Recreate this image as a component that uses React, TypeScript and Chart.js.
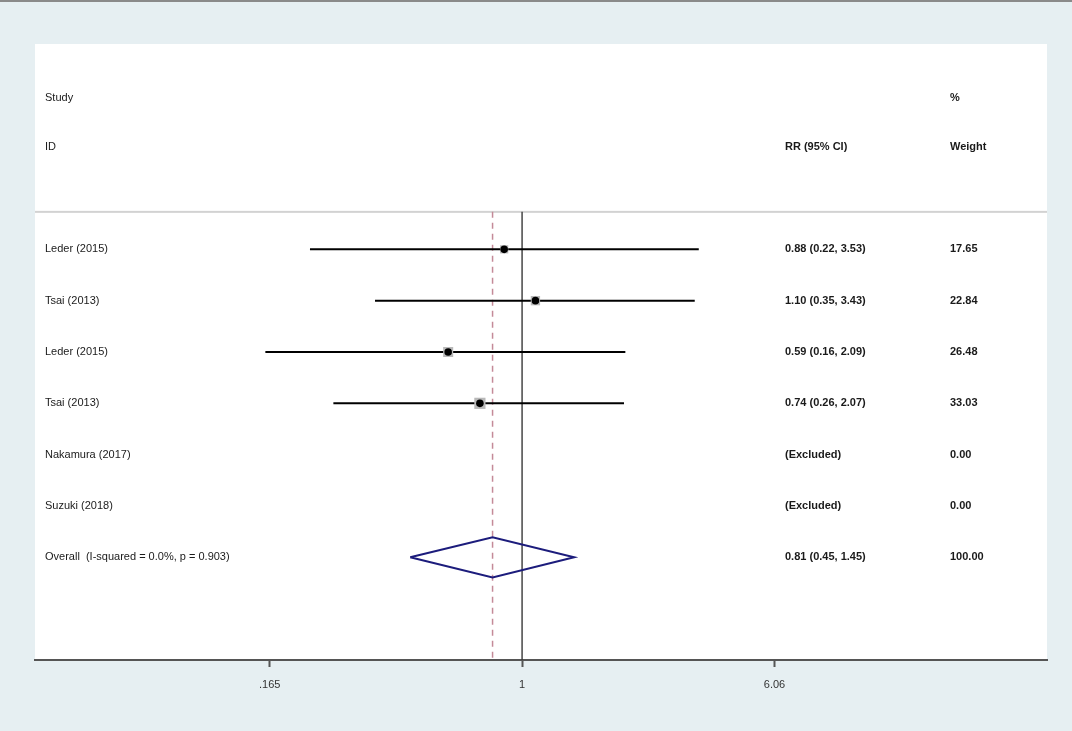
import React, { useEffect, useRef } from "react";
import { Chart, registerables } from "chart.js";

Chart.register(...registerables);

const STUDIES = ["Leder (2015)", "Tsai (2013)", "Leder (2015)", "Tsai (2013)", "Nakamura (2017)", "Suzuki (2018)"];
const RR = [0.88, 1.1, 0.59, 0.74, null, null];
const LO = [0.22, 0.35, 0.16, 0.26, null, null];
const HI = [3.53, 3.43, 2.09, 2.07, null, null];
const WEIGHTS = [17.65, 22.84, 26.48, 33.03, 0.0, 0.0];

const OVERALL_LABEL = "Overall  (I-squared = 0.0%, p = 0.903)";
const OVERALL_RR = 0.81;
const OVERALL_LO = 0.45;
const OVERALL_HI = 1.45;
const OVERALL_WEIGHT = 100.0;

const X_TICKS = [0.165, 1, 6.06];
const X_TICK_LABELS = [".165", "1", "6.06"];

const X_MIN = 0.0309;
const X_MAX = 42.4;
const Y_MIN = -4;
const Y_MAX = 8;
const HEADER_ROW_1 = -2.94;
const HEADER_ROW_2 = -1.99;
const SEPARATOR_Y = -0.73;
const OVERALL_ROW = STUDIES.length;

const FONT = "Arial, 'Liberation Sans', Helvetica, sans-serif";
const OUTER_BG = "#e6eff2";

const fmt = (v: number) => v.toFixed(2);

export default function App() {
  const ref = useRef<HTMLCanvasElement | null>(null);

  useEffect(() => {
    if (!ref.current) return;

    const rows = STUDIES.map((_, i) => i);
    const ciDatasets = rows
      .filter((i) => RR[i] != null)
      .map((i) => ({
        type: "line" as const,
        data: [
          { x: LO[i] as number, y: i },
          { x: HI[i] as number, y: i },
        ],
        borderColor: "#000000",
        borderWidth: 2,
        pointRadius: 0,
        showLine: true,
        order: 3,
      }));

    const boxData = rows.filter((i) => RR[i] != null).map((i) => ({ x: RR[i] as number, y: i }));
    const boxRadii = rows.filter((i) => RR[i] != null).map((i) => 1.38 * Math.sqrt(WEIGHTS[i]));

    const diamondH = 0.39;

    const chart = new Chart(ref.current, {
      type: "scatter",
      data: {
        datasets: [
          {
            type: "line",
            data: [
              { x: 1, y: SEPARATOR_Y },
              { x: 1, y: Y_MAX },
            ],
            borderColor: "#3a3a3a",
            borderWidth: 1.4,
            pointRadius: 0,
            showLine: true,
            order: 5,
          },
          {
            type: "line",
            data: [
              { x: OVERALL_RR, y: SEPARATOR_Y },
              { x: OVERALL_RR, y: Y_MAX },
            ],
            borderColor: "#c48a98",
            borderWidth: 1.5,
            borderDash: [6, 5],
            pointRadius: 0,
            showLine: true,
            order: 5,
          },
          ...ciDatasets,
          {
            type: "scatter",
            data: boxData,
            pointStyle: "rect",
            pointRadius: boxRadii,
            backgroundColor: "#b9b9b9",
            borderWidth: 0,
            order: 2,
          },
          {
            type: "scatter",
            data: boxData,
            pointStyle: "circle",
            pointRadius: 3.8,
            backgroundColor: "#000000",
            borderWidth: 0,
            order: 1,
          },
          {
            type: "line",
            data: [
              { x: OVERALL_LO, y: OVERALL_ROW },
              { x: OVERALL_RR, y: OVERALL_ROW - diamondH },
              { x: OVERALL_HI, y: OVERALL_ROW },
              { x: OVERALL_RR, y: OVERALL_ROW + diamondH },
              { x: OVERALL_LO, y: OVERALL_ROW },
            ],
            borderColor: "#1c1c7c",
            borderWidth: 2,
            pointRadius: 0,
            showLine: true,
            fill: false,
            order: 1,
          },
        ] as any,
      },
      options: {
        animation: false,
        responsive: false,
        maintainAspectRatio: false,
        layout: { padding: { left: 35, right: 25, top: 44, bottom: 0 } },
        plugins: {
          legend: { display: false },
          tooltip: { enabled: false },
        },
        scales: {
          x: {
            type: "logarithmic",
            min: X_MIN,
            max: X_MAX,
            position: "bottom",
            afterBuildTicks: (s: any) => {
              s.ticks = X_TICKS.map((v) => ({ value: v }));
            },
            afterFit: (s: any) => {
              s.height = 71;
            },
            ticks: {
              autoSkip: false,
              maxRotation: 0,
              padding: 11,
              color: "#333333",
              font: { family: FONT, size: 11 },
              callback: (_v: any, i: number) => X_TICK_LABELS[i],
            },
            grid: {
              display: true,
              drawOnChartArea: false,
              drawTicks: true,
              tickLength: 7,
              tickWidth: 2,
              color: "#555555",
            },
            border: { display: true, color: "#555555", width: 2 },
          },
          y: {
            type: "linear",
            min: Y_MIN,
            max: Y_MAX,
            reverse: true,
            display: false,
          },
        },
      },
      plugins: [
        {
          id: "backgrounds",
          beforeDraw: (c: any) => {
            const ctx = c.ctx;
            const { left, right, top, bottom } = c.chartArea;
            ctx.save();
            ctx.fillStyle = OUTER_BG;
            ctx.fillRect(0, 0, c.width, c.height);
            ctx.fillStyle = "#ffffff";
            ctx.fillRect(left, top, right - left, bottom - top);
            ctx.fillStyle = "#8a8a8a";
            ctx.fillRect(0, 0, c.width, 2);
            const ys = c.scales.y.getPixelForValue(SEPARATOR_Y);
            ctx.fillStyle = "#d2d2d2";
            ctx.fillRect(left, ys - 1, right - left, 2);
            ctx.restore();
          },
        },
        {
          id: "texts",
          afterDraw: (c: any) => {
            const ctx = c.ctx;
            const y = c.scales.y;
            const left = c.chartArea.left;
            const xStudy = left + 10;
            const xRR = left + 750;
            const xW = left + 915;
            ctx.save();
            ctx.fillStyle = "#1a1a1a";
            ctx.textBaseline = "middle";
            ctx.textAlign = "left";
            const normal = `11px ${FONT}`;
            const bold = `bold 11px ${FONT}`;

            ctx.font = normal;
            ctx.fillText("Study", xStudy, y.getPixelForValue(HEADER_ROW_1));
            ctx.fillText("ID", xStudy, y.getPixelForValue(HEADER_ROW_2));
            ctx.font = bold;
            ctx.fillText("%", xW, y.getPixelForValue(HEADER_ROW_1));
            ctx.fillText("RR (95% CI)", xRR, y.getPixelForValue(HEADER_ROW_2));
            ctx.fillText("Weight", xW, y.getPixelForValue(HEADER_ROW_2));

            STUDIES.forEach((name, i) => {
              const py = y.getPixelForValue(i);
              ctx.font = normal;
              ctx.fillText(name, xStudy, py);
              ctx.font = bold;
              const rr = RR[i];
              const txt =
                rr != null ? `${fmt(rr)} (${fmt(LO[i] as number)}, ${fmt(HI[i] as number)})` : "(Excluded)";
              ctx.fillText(txt, xRR, py);
              ctx.fillText(fmt(WEIGHTS[i]), xW, py);
            });

            const po = y.getPixelForValue(OVERALL_ROW);
            ctx.font = normal;
            ctx.fillText(OVERALL_LABEL, xStudy, po);
            ctx.font = bold;
            ctx.fillText(`${fmt(OVERALL_RR)} (${fmt(OVERALL_LO)}, ${fmt(OVERALL_HI)})`, xRR, po);
            ctx.fillText(fmt(OVERALL_WEIGHT), xW, po);
            ctx.restore();
          },
        },
      ],
    } as any);

    return () => chart.destroy();
  }, []);

  return (
    <div style={{ position: "absolute", left: 0, top: 0, width: 1072, height: 731 }}>
      <canvas ref={ref} width={1072} height={731} style={{ display: "block", width: 1072, height: 731 }} />
    </div>
  );
}
